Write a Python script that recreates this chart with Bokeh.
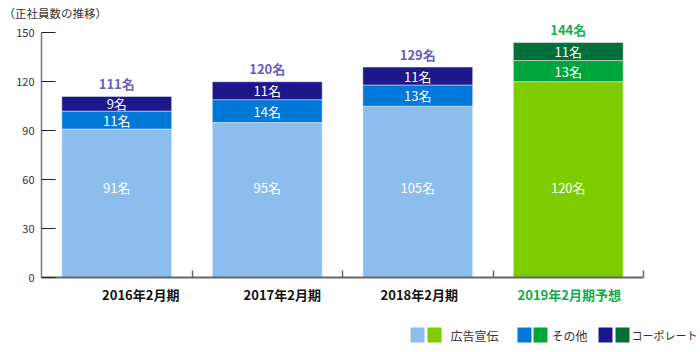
import numpy as np
from bokeh.plotting import figure
from bokeh.models import ColumnDataSource, Range1d, FixedTicker, LabelSet, CustomJSTickFormatter
from bokeh.layouts import column
from bokeh.embed import file_html
from bokeh.resources import INLINE
from bokeh.core.properties import value

# ---------------- data ----------------
periods = ["2016年2月期", "2017年2月期", "2018年2月期", "2019年2月期予想"]
advertising = [91, 95, 105, 120]
other = [11, 14, 13, 13]
corporate = [9, 11, 11, 11]
forecast = [False, False, False, True]
y_ticks = [0, 30, 60, 90, 120, 150]
legend_labels = ["広告宣伝", "その他", "コーポレート"]
title_text = "（正社員数の推移）"
unit = "名"

# ---------------- style / layout ----------------
FONT = value("Noto Sans CJK JP")
ACTUAL_COLORS = ["#8BBDED", "#0078D8", "#1E178C"]
FORECAST_COLORS = ["#7DCC00", "#00A43C", "#006F3A"]
TOTAL_ACTUAL = "#6B5BC4"
TOTAL_FORECAST = "#18B04A"
CAT_ACTUAL = "#111111"
CAT_FORECAST = "#12A94A"
CAT_DX = [24, 15, 1.5, 1]
BOTTOM_LABEL_Y = 55
BAR_W = 0.73
W = 700
LEFT, RIGHT = 41, 57
TITLE_H = 21
FRAME_PX = 256          # main frame height in px (21 .. 277)
AXIS_PX = 244.7         # px covered by 0..150
MAIN_BOTTOM = 8
CAT_H = 20
CAT_Y = 294             # canvas px of category label centres
Y_MAX = 150

ad = np.array(advertising)
ot = np.array(other)
co = np.array(corporate)
s1 = ad + ot
tot = s1 + co
n = len(periods)
xs = np.arange(n) + 0.5

def pick(i, layer):
    return FORECAST_COLORS[layer] if forecast[i] else ACTUAL_COLORS[layer]

src = ColumnDataSource(dict(
    x=xs,
    b0=np.zeros(n), t0=ad,
    b1=ad, t1=s1,
    b2=s1, t2=tot,
    c0=[pick(i, 0) for i in range(n)],
    c1=[pick(i, 1) for i in range(n)],
    c2=[pick(i, 2) for i in range(n)],
    l0=[f"{v}{unit}" for v in advertising],
    l1=[f"{v}{unit}" for v in other],
    l2=[f"{v}{unit}" for v in corporate],
    lt=[f"{v}{unit}" for v in tot],
    y0=[BOTTOM_LABEL_Y] * n,
    y1=(ad + s1) / 2,
    y2=(s1 + tot) / 2,
    tc=[TOTAL_FORECAST if f else TOTAL_ACTUAL for f in forecast],
))

def bare(fig):
    fig.outline_line_color = None
    fig.grid.visible = False
    fig.background_fill_color = "white"
    fig.border_fill_color = "white"
    fig.frame_align = False
    return fig

def strip(h, xr, left=0, right=0):
    return bare(figure(width=W, height=h, output_backend="svg", toolbar_location=None,
                       x_range=xr, y_range=Range1d(h, 0),
                       x_axis_type=None, y_axis_type=None, min_border=0,
                       min_border_left=left, min_border_right=right,
                       min_border_top=0, min_border_bottom=0))

# ---------------- title strip ----------------
tf = strip(TITLE_H, Range1d(0, W))
tf.text(x=[3], y=[12.5], text=[title_text], text_font=FONT, text_font_size="11.5px",
        text_color="#333333", text_align="left", text_baseline="middle")

# ---------------- main chart ----------------
p = bare(figure(width=W, height=FRAME_PX + MAIN_BOTTOM, output_backend="svg", toolbar_location=None,
                x_range=Range1d(0, n), y_range=Range1d(0, Y_MAX * FRAME_PX / AXIS_PX),
                min_border_left=LEFT, min_border_right=RIGHT,
                min_border_top=0, min_border_bottom=MAIN_BOTTOM))

for k in range(3):
    p.vbar(x="x", bottom=f"b{k}", top=f"t{k}", width=BAR_W, source=src,
           fill_color=f"c{k}", line_color="white", line_alpha=0.45, line_width=1)

ya = p.yaxis[0]
ya.bounds = (0, Y_MAX)
ya.ticker = FixedTicker(ticks=y_ticks)
ya.major_tick_in = 14
ya.major_tick_out = 0
ya.minor_tick_line_color = None
ya.axis_line_color = "#777777"
ya.axis_line_width = 1.5
ya.major_tick_line_color = "#222222"
ya.major_label_text_font = "Noto Sans CJK JP"
ya.major_label_text_font_size = "11px"
ya.major_label_text_color = "#333333"
ya.major_label_standoff = 7

xa = p.xaxis[0]
xa.ticker = FixedTicker(ticks=list(range(1, n + 1)))
xa.formatter = CustomJSTickFormatter(code="return ''")
xa.major_tick_in = 7
xa.major_tick_out = 0
xa.minor_tick_line_color = None
xa.axis_line_color = "#666666"
xa.axis_line_width = 2
xa.major_tick_line_color = "#666666"
xa.major_tick_line_width = 1.5
xa.major_label_text_font_size = "1px"
xa.major_label_standoff = 0

common = dict(source=src, text_align="center", text_baseline="middle", text_font=FONT)
p.add_layout(LabelSet(x="x", y="y0", text="l0", text_color="white", text_font_size="13px", **common))
p.add_layout(LabelSet(x="x", y="y1", text="l1", text_color="white", text_font_size="13px", **common))
p.add_layout(LabelSet(x="x", y="y2", text="l2", text_color="white", text_font_size="13px", **common))
p.add_layout(LabelSet(x="x", y="t2", text="lt", text_color="tc", y_offset=13,
                      text_font_size="13px", text_font_style="bold", **common))

# ---------------- category label strip ----------------
CAT_TOP = TITLE_H + FRAME_PX + MAIN_BOTTOM
cf = strip(CAT_H, Range1d(0, n), LEFT, RIGHT)
cf.text(x=xs, y=[CAT_Y - CAT_TOP] * n, text=periods, x_offset=CAT_DX,
        text_color=[CAT_FORECAST if f else CAT_ACTUAL for f in forecast],
        text_font=FONT, text_font_size="13px", text_font_style="bold",
        text_align="center", text_baseline="middle")

# ---------------- legend strip ----------------
LEG_H = 352 - CAT_TOP - CAT_H
sq_a = [417, 524, 605]
sq_b = [434, 540, 622]
txt_x = [450, 551, 631]
SQ_Y = 334.5 - (352 - LEG_H)

lg = strip(LEG_H, Range1d(0, W))
lg.rect(x=sq_a, y=[SQ_Y] * 3, width=14, height=15, fill_color=ACTUAL_COLORS, line_color=None)
lg.rect(x=sq_b, y=[SQ_Y] * 3, width=14, height=15, fill_color=FORECAST_COLORS, line_color=None)
lg.text(x=txt_x, y=[SQ_Y] * 3, text=legend_labels, text_font=FONT,
        text_font_size=["12px", "12px", "11px"], text_color="#333333",
        text_align="left", text_baseline="middle")

layout = column(tf, p, cf, lg, spacing=0)
open("out.html", "w").write(file_html(layout, INLINE))
